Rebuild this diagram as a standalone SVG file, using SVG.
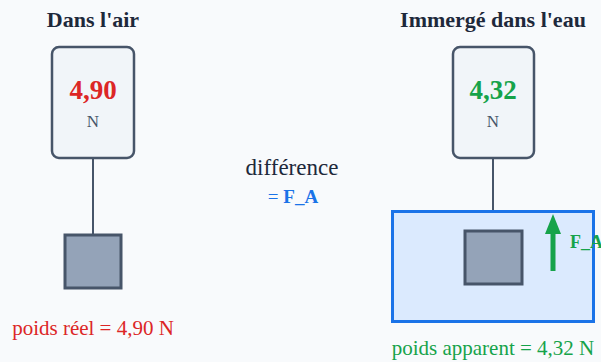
<svg xmlns="http://www.w3.org/2000/svg" width="601" height="362" viewBox="0 0 601 362">
<style>
text{font-family:"Liberation Serif","DejaVu Serif",serif;text-anchor:middle}
.title{font-size:22px;font-weight:bold;fill:#1e293b}
.val{font-size:27px;font-weight:bold}
.unit{font-size:17px;fill:#475569}
.gauge{fill:#f1f5f9;stroke:#475569;stroke-width:2.5}
.wire{stroke:#475569;stroke-width:2;fill:none}
.weight{fill:#94a3b8;stroke:#475569;stroke-width:3}
</style>
<rect width="601" height="362" fill="#f8fafc"/>
<g id="connectors">
<line class="wire" x1="93" y1="158" x2="93" y2="235"/>
<line class="wire" x1="493" y1="158" x2="493" y2="211"/>
</g>
<g id="air">
<text class="title" x="93" y="27">Dans l'air</text>
<rect class="gauge" x="52" y="47" width="82" height="111" rx="7"/>
<text class="val" x="93" y="99" fill="#dc2626">4,90</text>
<text class="unit" x="93" y="127">N</text>
<rect class="weight" x="65" y="235" width="56" height="53"/>
<text x="93" y="335" font-size="21" fill="#dc2626">poids réel = 4,90 N</text>
</g>
<g id="middle">
<text x="292" y="175" font-size="23" fill="#1e293b">différence</text>
<text x="293" y="203" font-size="19" fill="#1a73e8">= <tspan font-weight="bold">F_A</tspan></text>
</g>
<g id="water">
<text class="title" x="493" y="27">Immergé dans l'eau</text>
<rect class="gauge" x="453" y="47" width="81" height="111" rx="7"/>
<text class="val" x="493" y="99" fill="#16a34a">4,32</text>
<text class="unit" x="493" y="127">N</text>
<rect x="392.5" y="211.5" width="201" height="110" fill="#dbeafe" stroke="#1a73e8" stroke-width="3"/>
<rect class="weight" x="465" y="231" width="57" height="53"/>
<line x1="553" y1="271" x2="553" y2="230" stroke="#16a34a" stroke-width="5"/>
<polygon points="553,214 561,234 545,234" fill="#16a34a"/>
<text x="570" y="248" font-size="18" font-weight="bold" fill="#16a34a" style="text-anchor:start">F_A</text>
<text x="493" y="355" font-size="21" fill="#16a34a">poids apparent = 4,32 N</text>
</g>
</svg>
